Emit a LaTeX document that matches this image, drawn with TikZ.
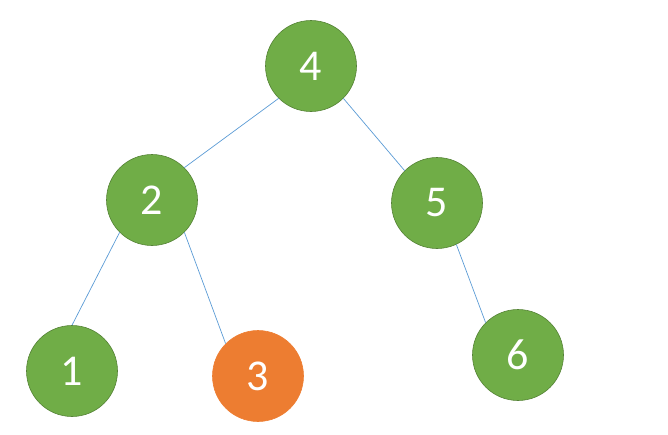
\documentclass[tikz,border=0pt]{standalone}
\usepackage{fontspec}
\setmainfont{Carlito}
\usepackage{tikz}
\usetikzlibrary{positioning}
\definecolor{leaf}{RGB}{112,173,71}
\definecolor{leafrim}{RGB}{84,130,53}
\definecolor{hot}{RGB}{237,125,49}
\definecolor{wire}{RGB}{91,155,213}

\begin{document}
\begin{tikzpicture}[x=1pt,y=-1pt,
  key/.style={circle,draw=leafrim,line width=0.6pt,fill=leaf,text=white,
     minimum size=91pt,inner sep=0pt,font=\fontsize{44}{44}\selectfont},
  hit/.style={key,draw=hot,fill=hot},
  every edge/.style={draw=wire,line width=0.7pt}]
\useasboundingbox (0,0) rectangle (668,434);
\node[key] (n4) at (311,66) {4};
\node[key] (n2) at (152,200) {2};
\node[key] (n5) at (437,203) {5};
\node[key] (n1) at (72,371) {1};
\node[hit] (n3) at (258,376) {3};
\node[key] (n6) at (518,355) {6};
\draw (n4.south west) edge (n2.north east) (n4.south east) edge (n5.north west);
\draw (n2.south west) edge (n1.north) (n2.south east) edge (n3.north west);
\draw (n5.-65) edge (n6.north west);
\end{tikzpicture}
\end{document}
